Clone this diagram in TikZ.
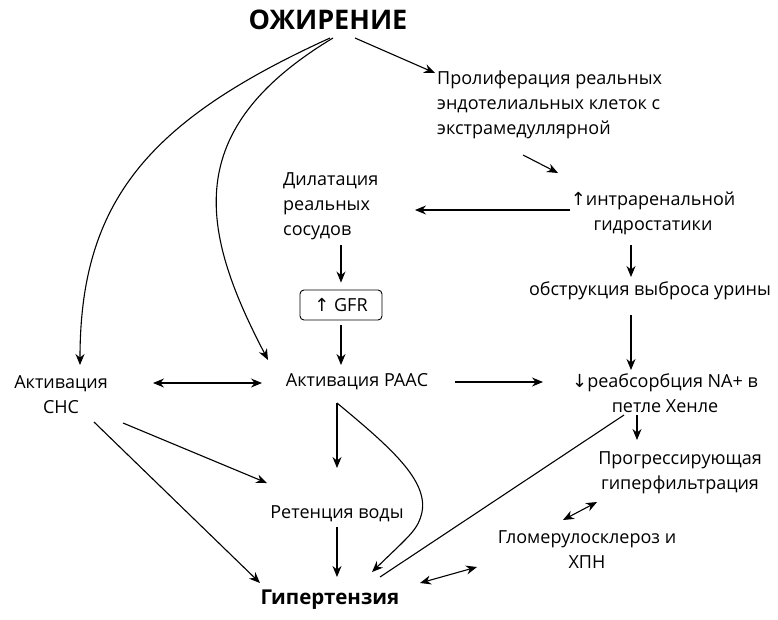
\documentclass[tikz,border=0pt]{standalone}
\usepackage{fontspec}
\setmainfont{Open Sans}
\newfontfamily\arrowfont{DejaVu Sans}
\usetikzlibrary{arrows.meta,calc}
\begin{document}
\begin{tikzpicture}[x=1pt,y=-1pt,
  txt/.style={font=\fontsize{18}{25}\selectfont, inner sep=0pt},
  big/.style={font=\fontsize{27}{30}\selectfont\bfseries, inner sep=0pt},
  arr/.style={-{Stealth[length=11pt,width=9pt]}, line width=1.1pt},
  darr/.style={{Stealth[length=11pt,width=9pt]}-{Stealth[length=11pt,width=9pt]}, line width=1.1pt},
  ln/.style={line width=1.1pt},
  box/.style={draw, rounded corners=4pt, line width=0.9pt, minimum width=82pt, minimum height=30pt, inner sep=0pt, font=\fontsize{18}{20}\selectfont},
]
\useasboundingbox (0,0) rectangle (778,619);
\node[big] (ob) at (328,20) {ОЖИРЕНИЕ};
\node[txt, align=left, anchor=west] (pro) at (437,105) {Пролиферация реальных\\эндотелиальных клеток с\\экстрамедуллярной};
\node[txt, align=left, anchor=west] (dil) at (283,206) {Дилатация\\реальных\\сосудов};
\node[txt, align=center] (intra) at (653,213) {{\arrowfont ↑}интраренальной\\гидростатики};
\node[txt] (obstr) at (650,291) {обструкция выброса урины};
\node[box] (gfr) at (341,305) {{\arrowfont ↑} GFR};
\node[txt] (raas) at (357,382) {Активация РААС};
\node[txt, align=center] (cns) at (61,395) {Активация\\СНС};
\node[txt, align=center] (reab) at (665,393) {{\arrowfont ↓}реабсорбция NA+ в\\петле Хенле};
\node[txt, align=center] (prog) at (680,473) {Прогрессирующая\\гиперфильтрация};
\node[txt] (ret) at (337,514) {Ретенция воды};
\node[txt, align=center] (glom) at (587,550) {Гломерулосклероз и\\ХПН};
\node[big, font=\fontsize{20.5}{26}\selectfont\bfseries] (hyp) at (330,600) {Гипертензия};

\draw[arr] ($(ob)+(27,18)$) -- ($(pro.west)+(-2,-32)$);
\draw[arr] ($(pro.west)+(86,50)$) -- ($(intra)+(-95,-40)$);
\draw[arr] ($(intra)+(-83,-3)$) -- ($(dil.west)+(132,4)$);
\draw[arr] ($(dil.west)+(58,39)$) -- ($(gfr.north)+(0,-7)$);
\draw[arr] ($(gfr.south)+(0,5)$) -- ($(raas)+(-16,-17)$);
\draw[arr] ($(ob)+(2,18)$) .. controls (150,120) and (80,200) .. ($(cns)+(19,-30)$);
\draw[arr] ($(ob)+(5,18)$) .. controls (180,130) and (200,230) .. ($(raas)+(-89,-22)$);
\draw[darr] ($(cns)+(92,-12)$) -- ($(raas)+(-95,1)$);
\draw[arr] ($(raas)+(98,0)$) -- ($(reab)+(-122,-11)$);
\draw[arr] ($(intra)+(-22,32)$) -- ($(obstr)+(-19,-14)$);
\draw[arr] ($(obstr)+(-19,24)$) -- ($(reab)+(-34,-23)$);
\draw[arr] ($(reab)+(-28,22)$) -- ($(prog)+(-43,-33)$);
\draw[darr] ($(glom)+(-24,-30)$) -- ($(prog)+(-83,29)$);
\draw[darr] ($(hyp)+(90,-17)$) -- ($(glom)+(-110,17)$);
\draw[ln] ($(reab)+(-41,22)$) -- ($(hyp)+(50,-23)$);
\draw[arr] ($(raas)+(-20,21)$) -- ($(ret)+(0,-46)$);
\draw[arr] ($(raas)+(-20,21)$) .. controls (390,447) and (428,480) .. (422,512) .. controls (418,530) and (410,535) .. ($(hyp)+(42,-28)$);
\draw[arr] ($(ret)+(0,13)$) -- ($(hyp)+(7,-23)$);
\draw[arr] ($(cns)+(62,28)$) -- ($(ret)+(-70,-31)$);
\draw[arr] ($(cns)+(33,27)$) -- ($(hyp)+(-70,-17)$);
\end{tikzpicture}
\end{document}
